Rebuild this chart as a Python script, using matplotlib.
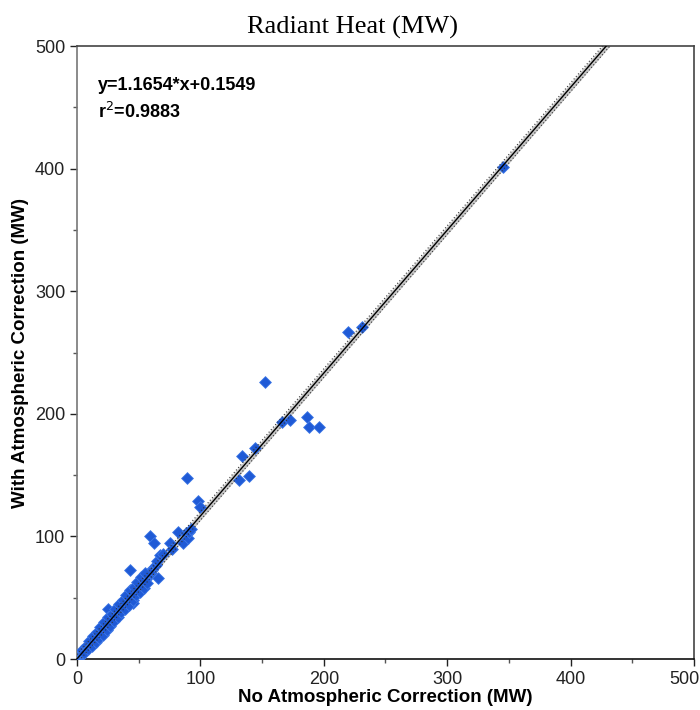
import matplotlib
matplotlib.use("Agg")
import matplotlib.pyplot as plt
import numpy as np
from matplotlib.ticker import MultipleLocator

# regression reported on the chart
SLOPE = 1.1654
INTERCEPT = 0.1549
R2 = 0.9883
BAND = 3.5  # half-width of the confidence band (MW)

x_ticks = [0, 100, 200, 300, 400, 500]
x_ticklabels = ["0", "100", "200", "300", "400", "500"]

# dense cloud along the fit line
x_dense = [1, 1.5, 2, 2.5, 3, 3.2, 3.8, 4, 4.5, 5, 5.3, 5.8, 6, 6.5, 7, 7.2, 7.8, 8, 8.5, 9,
           9.3, 9.8, 10, 10.5, 11, 11.3, 11.8, 12, 12.5, 13, 13.4, 14, 14.3, 14.8, 15, 15.5, 16,
           16.4, 17, 17.5, 18, 18.3, 19, 19.5, 20, 20.5, 21, 21.5, 22, 22.5, 23, 23.5, 24, 24.5,
           25, 25, 25.5, 26, 26.5, 27, 27.5, 28, 28.5, 29, 29.5, 30, 30.5, 31, 31.5, 32, 32.5, 33,
           33.5, 34, 34.5, 35, 35.5, 36, 36.5, 37, 37.5, 38, 38.5, 39, 39.5, 40, 40.5, 41, 41.5,
           42, 43, 42.5, 43, 43.5, 44, 45, 44.5, 45.5, 46, 47, 47.5, 48, 49, 50, 51, 52, 53, 54,
           55, 56, 57, 58, 60, 61, 63, 64, 65,
           4, 7, 10, 13, 16, 19, 22, 25, 28, 31, 34, 37, 40, 43, 46, 49, 52, 55,
           6, 9, 12, 15, 18, 21, 24, 27, 30, 33, 36, 39, 42, 45, 48, 51, 54, 57]
y_dense = [1.5, 2, 2.1, 3.3, 3.2, 4.1, 4.3, 5.2, 5.0, 6.3, 5.8, 7.1, 6.6, 7.9, 8.0, 8.9, 8.7,
           9.9, 9.6, 10.9, 10.3, 11.8, 11.2, 12.6, 12.4, 13.8, 13.2, 14.6, 14.1, 15.7, 14.8, 16.9,
           16.0, 17.9, 17.0, 18.6, 18.2, 19.8, 19.4, 21.0, 20.5, 22.2, 21.7, 23.5, 22.6, 24.9,
           23.8, 26.0, 24.9, 27.3, 26.0, 28.5, 27.2, 30.0, 28.4, 41.0, 31.2, 29.6, 32.5, 31.0,
           33.8, 32.0, 35.0, 33.2, 36.5, 34.6, 37.4, 35.8, 38.8, 37.2, 40.0, 38.0, 41.5, 39.6,
           43.0, 40.5, 44.2, 42.0, 45.5, 43.0, 47.0, 44.2, 48.0, 45.6, 49.5, 46.5, 50.5, 48.0,
           52.0, 49.0, 73.0, 53.5, 50.5, 55.0, 52.0, 46.0, 56.5, 54.0, 57.5, 56.0, 59.0, 57.5,
           61.0, 59.0, 63.0, 61.5, 64.5, 63.0, 66.0, 65.5, 68.0, 71.0, 70.0, 72.5, 76.0, 77.0,
           80.0,
           7, 11, 15, 19, 22, 26, 30, 34, 37, 41, 45, 48, 52, 56, 59, 63, 67, 70,
           5, 8, 11, 14, 17, 20, 24, 27, 31, 34, 38, 41, 44, 48, 52, 55, 58, 62]

# scattered points above ~55 MW
x_sparse = [59, 62, 66, 67, 70, 75, 77, 82, 86, 88, 90, 91, 92, 89, 98, 100, 131, 134, 139,
            144, 152, 166, 173, 186, 188, 196, 220, 231, 345]
y_sparse = [100, 95, 66, 85, 86, 95, 90, 104, 95, 103, 99, 104, 106, 148, 129, 124, 146, 166,
            149, 172, 226, 193, 195, 197, 189, 189, 267, 271, 401]

x_all = np.array(x_dense + x_sparse)
y_all = np.array(y_dense + y_sparse)

fig = plt.figure(figsize=(7.0, 7.1), dpi=100)
ax = fig.add_axes([0.11, 0.0718, 0.8814, 0.8634])

ax.scatter(x_all, y_all, marker="D", s=36, color="#1f5ad6", edgecolors="#3f78e6",
           linewidths=0.6, zorder=3)

xf = np.linspace(0, (500 - INTERCEPT) / SLOPE + 5, 200)
yf = SLOPE * xf + INTERCEPT
ax.fill_between(xf, yf - BAND, yf + BAND, color="#bdbdbd", alpha=0.85, lw=0, zorder=2)
ax.plot(xf, yf - BAND, color="#333333", lw=0.8, ls=(0, (1, 2)), zorder=4)
ax.plot(xf, yf + BAND, color="#333333", lw=0.8, ls=(0, (1, 2)), zorder=4)
ax.plot(xf, yf, color="black", lw=1.0, zorder=4)

ax.set_xlim(0, 500)
ax.set_ylim(0, 500)
# last x label would be cut by the figure edge, so it is drawn separately below
ax.set_xticks(x_ticks, x_ticklabels[:-1] + [""])
ax.xaxis.set_minor_locator(MultipleLocator(50))
ax.yaxis.set_major_locator(MultipleLocator(100))
ax.yaxis.set_minor_locator(MultipleLocator(50))
ax.tick_params(which="major", direction="out", length=5, width=1, labelsize=13,
               colors="#222222")
ax.tick_params(which="minor", direction="out", length=3, width=1, colors="#555555")
for lab in ax.get_xticklabels() + ax.get_yticklabels():
    lab.set_fontfamily("Liberation Sans")
ax.annotate(x_ticklabels[-1], xy=(x_ticks[-1], 0), xycoords=("data", "axes fraction"),
            xytext=(-7, -8.5), textcoords="offset points", ha="center", va="top",
            fontsize=13, color="#222222", family="Liberation Sans")

ax.spines["left"].set_color("#777777")
ax.spines["bottom"].set_color("#111111")
ax.spines["top"].set_color("#444444")
ax.spines["right"].set_color("#444444")
for s in ax.spines.values():
    s.set_linewidth(1.2)

ax.set_xlabel("No Atmospheric Correction (MW)", fontsize=13.5, fontweight="bold",
              family="Liberation Sans", labelpad=1)
ax.set_ylabel("With Atmospheric Correction (MW)", fontsize=13.5, fontweight="bold",
              family="Liberation Sans", labelpad=4)

ax.text(0.034, 0.935, f"y={SLOPE}*x+{INTERCEPT}", transform=ax.transAxes, fontsize=13,
        fontweight="bold", family="Liberation Sans", va="center")
ax.text(0.034, 0.893, f"r$^2$={R2}", transform=ax.transAxes, fontsize=13,
        fontweight="bold", family="Liberation Sans", va="center")

fig.text(0.503, 0.962, "Radiant Heat (MW)", ha="center", va="center", fontsize=19,
         family="Liberation Serif")

fig.savefig("out.png", dpi=100)
